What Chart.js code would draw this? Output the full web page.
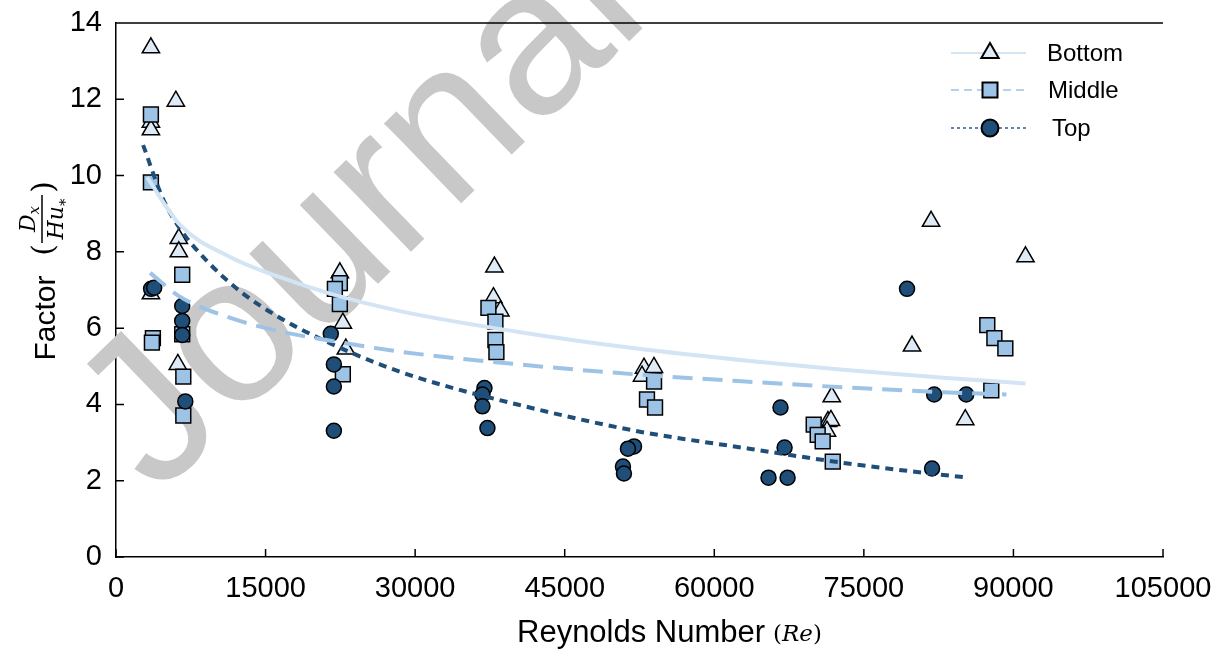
<!DOCTYPE html>
<html><head><meta charset="utf-8">
<script src="https://cdn.jsdelivr.net/npm/chart.js@4.4.1/dist/chart.umd.min.js"></script>
<style>html,body{margin:0;padding:0;background:#fff;}canvas{display:block;}</style>
</head><body>
<canvas id="c" width="1220" height="650"></canvas>
<script>
// ---- tick labels ----
const xTicks = [0, 15000, 30000, 45000, 60000, 75000, 90000, 105000];
const yTicks = [0, 2, 4, 6, 8, 10, 12, 14];

// ---- series names ----
const seriesNames = ['Bottom', 'Middle', 'Top'];

// ---- Bottom (triangles) ----
const bottomX = [3500, 3500, 3500, 3500, 6000, 6300, 6300, 6200, 22450, 22750, 23050, 37950, 37850, 38550, 52950, 53950, 52750, 71780, 71400, 71700, 71300, 81740, 91210, 79830, 85170];
const bottomY = [13.35, 11.4, 11.2, 6.9, 11.95, 8.35, 8.0, 5.05, 7.45, 6.13, 5.45, 7.6, 6.8, 6.45, 4.95, 4.97, 4.74, 4.2, 3.55, 3.58, 3.3, 8.8, 7.87, 5.53, 3.6];

// ---- Middle (squares) ----
const middleX = [3500, 3500, 3700, 3600, 6640, 6640, 6750, 6750, 22450, 21950, 22450, 22750, 37350, 38050, 38050, 38150, 53960, 53250, 54060, 69970, 70370, 70870, 71880, 87380, 88090, 89190, 87780];
const middleY = [11.6, 9.82, 5.74, 5.62, 7.4, 5.84, 4.73, 3.71, 7.18, 7.03, 6.63, 4.79, 6.53, 6.17, 5.69, 5.37, 4.6, 4.13, 3.92, 3.47, 3.2, 3.03, 2.5, 6.08, 5.74, 5.47, 4.37];

// ---- Top (circles) ----
const topX = [3520, 3830, 6640, 6640, 6640, 6950, 21540, 21850, 21850, 21850, 36950, 36750, 36750, 37250, 51950, 51340, 50840, 50940, 66640, 67050, 65440, 67350, 79330, 82050, 85270, 81840];
const topY = [7.03, 7.06, 6.58, 6.19, 5.82, 4.08, 5.85, 5.05, 4.47, 3.31, 4.43, 4.26, 3.95, 3.38, 2.9, 2.84, 2.37, 2.19, 3.92, 2.87, 2.08, 2.08, 7.03, 4.26, 4.26, 2.32];

// ---- trend curves ----
const bottomFitX = [3120, 6440, 11480, 16510, 21540, 28590, 40370, 52050, 63820, 72890, 82960, 91210];
const bottomFitY = [9.95, 8.7, 7.86, 7.33, 6.9, 6.44, 5.9, 5.47, 5.13, 4.91, 4.7, 4.55];
const middleFitX = [3420, 6440, 11480, 16510, 21540, 28590, 40370, 52050, 63820, 72890, 82960, 89300];
const middleFitY = [7.45, 6.82, 6.27, 5.91, 5.67, 5.38, 5.05, 4.79, 4.59, 4.45, 4.32, 4.26];
const topFitX = [2720, 4730, 6440, 9160, 12480, 16510, 21240, 26580, 30900, 40370, 52050, 63500, 72890, 79630, 85470];
const topFitY = [10.8, 9.38, 8.6, 7.75, 6.96, 6.26, 5.63, 5.04, 4.65, 3.99, 3.31, 2.84, 2.47, 2.25, 2.08];

const pts = (xs, ys) => xs.map((x, i) => ({x: x, y: ys[i]}));

const C_BOTTOM = '#deebf7', C_BOTTOM_LINE = '#d3e4f4', C_MIDDLE = '#9dc3e6', C_TOP = '#1f4e79';
const SANS = '"Liberation Sans", Arial, sans-serif';
const SERIF = '"DejaVu Serif", "Liberation Serif", serif';

const watermark = {
  id: 'watermark',
  beforeDatasetsDraw(chart) {
    const ctx = chart.ctx;
    ctx.save();
    ctx.translate(157, 497);
    ctx.rotate(-44 * Math.PI / 180);
    ctx.fillStyle = 'rgb(200,200,200)';
    ctx.font = '210px ' + SANS;
    ctx.textBaseline = 'alphabetic';
    ctx.fillText('Journal Pre-proof', 0, 0);
    ctx.restore();
  }
};

const frame = {
  id: 'frame',
  afterDatasetsDraw(chart) {
    const {ctx, chartArea: a, scales: {x, y}} = chart;
    ctx.save();
    ctx.strokeStyle = '#000';
    ctx.lineWidth = 1.5;
    ctx.beginPath();
    y.ticks.forEach(t => { const py = y.getPixelForValue(t.value); ctx.moveTo(a.left, py); ctx.lineTo(a.left + 8, py); });
    x.ticks.forEach(t => { const px = x.getPixelForValue(t.value); ctx.moveTo(px, a.bottom); ctx.lineTo(px, a.bottom - 8); });
    ctx.moveTo(a.left, a.top); ctx.lineTo(a.right, a.top);
    ctx.stroke();
    ctx.restore();
  }
};

function marker(ctx, kind, cx, cy, fill) {
  ctx.save();
  ctx.fillStyle = fill; ctx.strokeStyle = '#000'; ctx.lineWidth = 2;
  ctx.beginPath();
  if (kind === 'triangle') {
    const r = 10;
    ctx.moveTo(cx, cy - r);
    ctx.lineTo(cx + r * 0.866, cy + r * 0.5);
    ctx.lineTo(cx - r * 0.866, cy + r * 0.5);
    ctx.closePath();
  } else if (kind === 'rect') {
    ctx.rect(cx - 7.5, cy - 7.5, 15, 15);
  } else {
    ctx.arc(cx, cy, 8.5, 0, Math.PI * 2);
  }
  ctx.fill(); ctx.stroke();
  ctx.restore();
}

const legendAndTitles = {
  id: 'legendAndTitles',
  afterDraw(chart) {
    const ctx = chart.ctx;
    const items = [
      {name: seriesNames[0], y: 53, kind: 'triangle', fill: C_BOTTOM, line: C_BOTTOM_LINE, dash: [], lw: 2, tx: 1047},
      {name: seriesNames[1], y: 90, kind: 'rect', fill: C_MIDDLE, line: C_MIDDLE, dash: [8, 5], lw: 1.5, tx: 1048},
      {name: seriesNames[2], y: 128, kind: 'circle', fill: C_TOP, line: '#2e5f8f', dash: [3, 3], lw: 1.5, tx: 1052}
    ];
    items.forEach(it => {
      ctx.save();
      ctx.strokeStyle = it.line; ctx.lineWidth = it.lw; ctx.setLineDash(it.dash);
      ctx.beginPath(); ctx.moveTo(951, it.y); ctx.lineTo(1026, it.y); ctx.stroke();
      ctx.restore();
      marker(ctx, it.kind, 990, it.y, it.fill);
      ctx.save();
      ctx.fillStyle = '#000'; ctx.font = '24px ' + SANS; ctx.textBaseline = 'middle'; ctx.textAlign = 'left';
      ctx.fillText(it.name, it.tx, it.y + 1);
      ctx.restore();
    });

    // x-axis title
    ctx.save();
    ctx.fillStyle = '#000';
    ctx.textBaseline = 'alphabetic';
    ctx.font = '31px ' + SANS;
    ctx.fillText('Reynolds Number', 517, 642);
    ctx.font = '23px ' + SERIF;
    let px = 773;
    ctx.fillText('(', px, 641); px += ctx.measureText('(').width;
    ctx.font = 'italic 23px ' + SERIF;
    ctx.fillText('Re', px, 641); px += ctx.measureText('Re').width;
    ctx.font = '23px ' + SERIF;
    ctx.fillText(')', px, 641);
    ctx.restore();

    // y-axis title
    ctx.save();
    ctx.fillStyle = '#000';
    ctx.translate(55, 318);
    ctx.rotate(-Math.PI / 2);
    ctx.font = '30px ' + SANS;
    ctx.textAlign = 'center';
    ctx.textBaseline = 'alphabetic';
    ctx.fillText('Factor', 0, 0);
    ctx.restore();

    ctx.save();
    ctx.fillStyle = '#000'; ctx.strokeStyle = '#000';
    ctx.translate(42, 219);
    ctx.rotate(-Math.PI / 2);
    ctx.lineWidth = 1.5;
    ctx.beginPath(); ctx.moveTo(-24, 0); ctx.lineTo(24, 0); ctx.stroke();
    ctx.textBaseline = 'alphabetic';
    ctx.font = 'italic 22px ' + SERIF;
    const dW = ctx.measureText('D').width;
    ctx.font = 'italic 15px ' + SERIF;
    const xW = ctx.measureText('x').width;
    let sx = -(dW + xW) / 2;
    ctx.font = 'italic 22px ' + SERIF; ctx.fillText('D', sx, -7);
    ctx.font = 'italic 15px ' + SERIF; ctx.fillText('x', sx + dW, -3);
    ctx.font = 'italic 22px ' + SERIF;
    const huW = ctx.measureText('Hu').width;
    ctx.font = '15px ' + SERIF;
    const sW = ctx.measureText('*').width;
    sx = -(huW + sW) / 2;
    ctx.font = 'italic 22px ' + SERIF; ctx.fillText('Hu', sx, 21);
    ctx.font = '15px ' + SERIF; ctx.fillText('*', sx + huW, 28);
    ctx.font = '30px ' + SERIF;
    ctx.textAlign = 'center';
    ctx.fillText('(', -31, 11);
    ctx.fillText(')', 32, 11);
    ctx.restore();
  }
};

const tickFont = {family: SANS, size: 29};

new Chart(document.getElementById('c'), {
  type: 'scatter',
  data: {
    datasets: [
      {label: 'Bottom fit', data: pts(bottomFitX, bottomFitY), showLine: true, borderColor: C_BOTTOM_LINE, borderWidth: 4, pointRadius: 0, cubicInterpolationMode: 'monotone', order: 0},
      {label: 'Middle fit', data: pts(middleFitX, middleFitY), showLine: true, borderColor: C_MIDDLE, borderWidth: 4, borderDash: [20, 10], pointRadius: 0, cubicInterpolationMode: 'monotone', order: 0},
      {label: 'Top fit', data: pts(topFitX, topFitY), showLine: true, borderColor: C_TOP, borderWidth: 4, borderDash: [8, 6], pointRadius: 0, cubicInterpolationMode: 'monotone', order: 0},
      {label: seriesNames[2], data: pts(topX, topY), pointStyle: 'circle', pointRadius: 7.5, backgroundColor: C_TOP, borderColor: '#000', pointBorderWidth: 1.5, order: 1},
      {label: seriesNames[1], data: pts(middleX, middleY), pointStyle: 'rect', pointRadius: 10.5, backgroundColor: C_MIDDLE, borderColor: '#000', pointBorderWidth: 1.5, order: 2},
      {label: seriesNames[0], data: pts(bottomX, bottomY), pointStyle: 'triangle', pointRadius: 10, backgroundColor: C_BOTTOM, borderColor: '#000', pointBorderWidth: 1.5, order: 3}
    ]
  },
  options: {
    responsive: false,
    animation: false,
    devicePixelRatio: 1,
    layout: {padding: {top: 23, right: 57, left: 0, bottom: 0}},
    plugins: {legend: {display: false}, tooltip: {enabled: false}},
    scales: {
      x: {
        type: 'linear', min: 0, max: 105000,
        afterBuildTicks: s => { s.ticks = xTicks.map(v => ({value: v})); },
        afterFit: s => { s.height = 93; s.paddingLeft = 0; s.paddingRight = 0; },
        grid: {display: false, drawTicks: false},
        border: {display: true, color: '#000', width: 1.5},
        ticks: {font: tickFont, color: '#000', padding: 15, maxRotation: 0, autoSkip: false, callback: v => String(v)}
      },
      y: {
        type: 'linear', min: 0, max: 14,
        afterBuildTicks: s => { s.ticks = yTicks.map(v => ({value: v})); },
        afterFit: s => { s.width = 116; s.paddingTop = 0; s.paddingBottom = 0; },
        grid: {display: false, drawTicks: false},
        border: {display: true, color: '#000', width: 1.5},
        ticks: {font: tickFont, color: '#000', padding: 14, callback: v => String(v)}
      }
    }
  },
  plugins: [watermark, frame, legendAndTitles]
});
</script>
</body></html>
